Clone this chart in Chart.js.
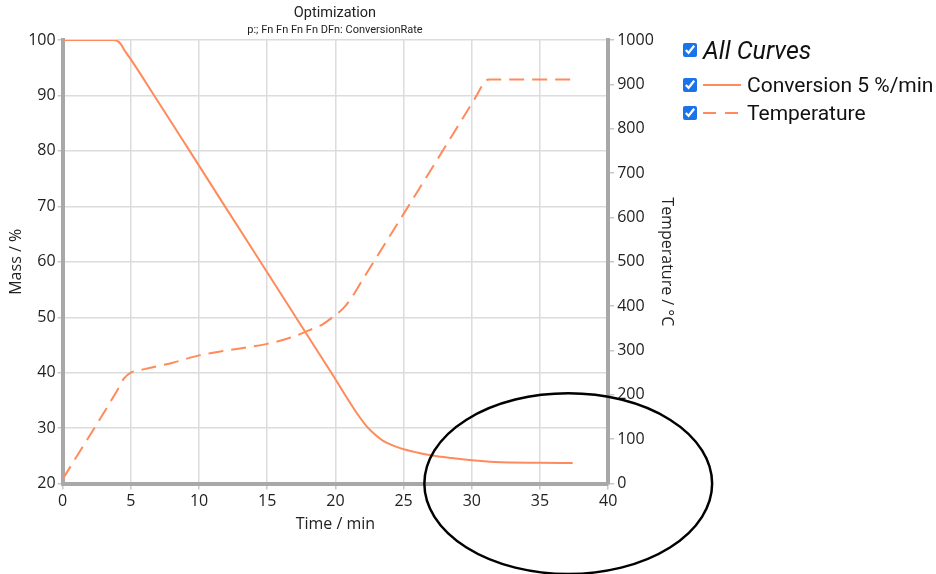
<!DOCTYPE html>
<html><head><meta charset="utf-8">
<script src="https://cdn.jsdelivr.net/npm/chart.js@4/dist/chart.umd.min.js"></script>
<style>
html,body{margin:0;padding:0;background:#fff;width:936px;height:574px;overflow:hidden;}
#wrap{position:relative;width:936px;height:574px;}
#c{position:absolute;left:0;top:0;}
.t{position:absolute;left:0;width:670px;text-align:center;font-family:Roboto,sans-serif;color:#222;white-space:nowrap;}
.lg{position:absolute;left:681px;height:28px;display:flex;align-items:center;font-family:Roboto,sans-serif;color:#111;white-space:nowrap;}
.lg input{margin:0 6px 0 2px;width:14px;height:14px;accent-color:#1a73e8;}
.lg svg{margin-right:6px;}
</style></head>
<body><div id="wrap">
<canvas id="c" width="936" height="574"></canvas>
<div class="t" style="top:4px;font-size:14.5px;">Optimization</div>
<div class="t" style="top:23px;font-size:11px;">p:; Fn Fn Fn Fn DFn: ConversionRate</div>
<div class="lg" style="top:36px;font-size:25px;font-style:italic;"><input type="checkbox" checked><span>All Curves</span></div>
<div class="lg" style="top:71px;font-size:21px;"><input type="checkbox" checked><svg width="38" height="6"><line x1="0" y1="3" x2="38" y2="3" stroke="#ff8a5b" stroke-width="2"/></svg><span>Conversion 5 %/min</span></div>
<div class="lg" style="top:99px;font-size:21px;"><input type="checkbox" checked><svg width="38" height="6"><line x1="0" y1="3" x2="38" y2="3" stroke="#ff8a5b" stroke-width="2" stroke-dasharray="13 9"/></svg><span>Temperature</span></div>
</div>
<script>
// ---- data ----
const massTime   = [0, 3.7, 4.0, 4.25, 4.6, 5, 6.71, 9.31, 11.9, 14.5, 17.1, 19.7, 21.6, 22.2, 22.7, 23.5, 24.2, 25, 26, 27, 28.5, 30, 31.7, 35, 37.4];
const massValues = [100, 100, 99.85, 99.3, 97.9, 96.5, 90, 80, 70, 60, 50, 40, 32.6, 30.6, 29.3, 27.7, 26.9, 26.2, 25.6, 25.1, 24.6, 24.2, 23.9, 23.75, 23.7];
const tempTime   = [0, 4, 4.5, 5, 6, 8, 10, 12, 15, 17, 18, 19, 20, 20.6, 21.2, 22, 25, 28, 30.3, 31, 31.3, 37.3];
const tempValues = [10, 210, 237, 250, 258, 272, 289, 300, 315, 332, 345, 358, 380, 396, 420, 460, 608, 757, 872, 908, 911, 911];
const xTicks    = [0, 5, 10, 15, 20, 25, 30, 35, 40];
const massTicks = [20, 30, 40, 50, 60, 70, 80, 90, 100];
const tempTicks = [0, 100, 200, 300, 400, 500, 600, 700, 800, 900, 1000];

const lineColor = '#ff8a5b';
const gridColor = '#dcdcdc';
const borderGray = '#a8a8a8';
const tickFont = {family: "'Open Sans', sans-serif", size: 16};

const ellipsePlugin = {
  id: 'ellipse',
  afterDraw(chart) {
    const {ctx, scales} = chart;
    const cx = scales.x.getPixelForValue(37.07);
    const cy = scales.y.getPixelForValue(20.0);
    const rx = scales.x.getPixelForValue(10.55) - scales.x.getPixelForValue(0);
    const ry = scales.y.getPixelForValue(20) - scales.y.getPixelForValue(36.3);
    ctx.save();
    ctx.beginPath();
    ctx.ellipse(cx, cy, rx, ry, 0, 0, Math.PI * 2);
    ctx.lineWidth = 2.5;
    ctx.strokeStyle = '#000';
    ctx.stroke();
    ctx.restore();
  }
};

function fixTicks(list) { return axis => { axis.ticks = list.map(v => ({value: v})); }; }
const plain = v => String(v);

new Chart(document.getElementById('c'), {
  type: 'line',
  data: {
    datasets: [
      {label: 'Conversion 5 %/min', data: massTime.map((t, i) => ({x: t, y: massValues[i]})),
       borderColor: lineColor, borderWidth: 2, pointRadius: 0, yAxisID: 'y', cubicInterpolationMode: 'monotone'},
      {label: 'Temperature', data: tempTime.map((t, i) => ({x: t, y: tempValues[i]})),
       borderColor: lineColor, borderWidth: 2, borderDash: [15, 8], pointRadius: 0, yAxisID: 'y1', cubicInterpolationMode: 'monotone'}
    ]
  },
  options: {
    responsive: false, animation: false, devicePixelRatio: 1,
    layout: {padding: {top: 40, right: 260, bottom: 36, left: 7}},
    plugins: {legend: {display: false}, title: {display: false}, tooltip: {enabled: false}},
    scales: {
      x: {type: 'linear', min: 0, max: 40, afterBuildTicks: fixTicks(xTicks),
          border: {width: 4, color: borderGray},
          grid: {color: gridColor, lineWidth: 1.5, tickLength: 6, tickColor: '#c8c8c8'},
          ticks: {font: tickFont, color: '#222', padding: 2, maxRotation: 0, callback: plain},
          title: {display: true, text: 'Time / min', font: tickFont, color: '#222', padding: {top: 2}}},
      y: {type: 'linear', position: 'left', min: 20, max: 100, afterBuildTicks: fixTicks(massTicks),
          border: {width: 4, color: borderGray},
          grid: {color: gridColor, lineWidth: 1.5, tickLength: 5, tickColor: '#c8c8c8'},
          ticks: {font: tickFont, color: '#222', padding: 2, callback: plain},
          title: {display: true, text: 'Mass / %', font: tickFont, color: '#222', padding: {top: 0, bottom: 0}}},
      y1: {type: 'linear', position: 'right', min: 0, max: 1000, afterBuildTicks: fixTicks(tempTicks),
          border: {width: 4, color: borderGray},
          grid: {drawOnChartArea: false, tickLength: 6, tickColor: '#c8c8c8', lineWidth: 1.5},
          ticks: {font: tickFont, color: '#222', padding: 3, callback: plain},
          title: {display: true, text: 'Temperature / °C', font: tickFont, color: '#222', padding: {top: 0, bottom: 0}}}
    }
  },
  plugins: [ellipsePlugin]
});
</script>
</body></html>
